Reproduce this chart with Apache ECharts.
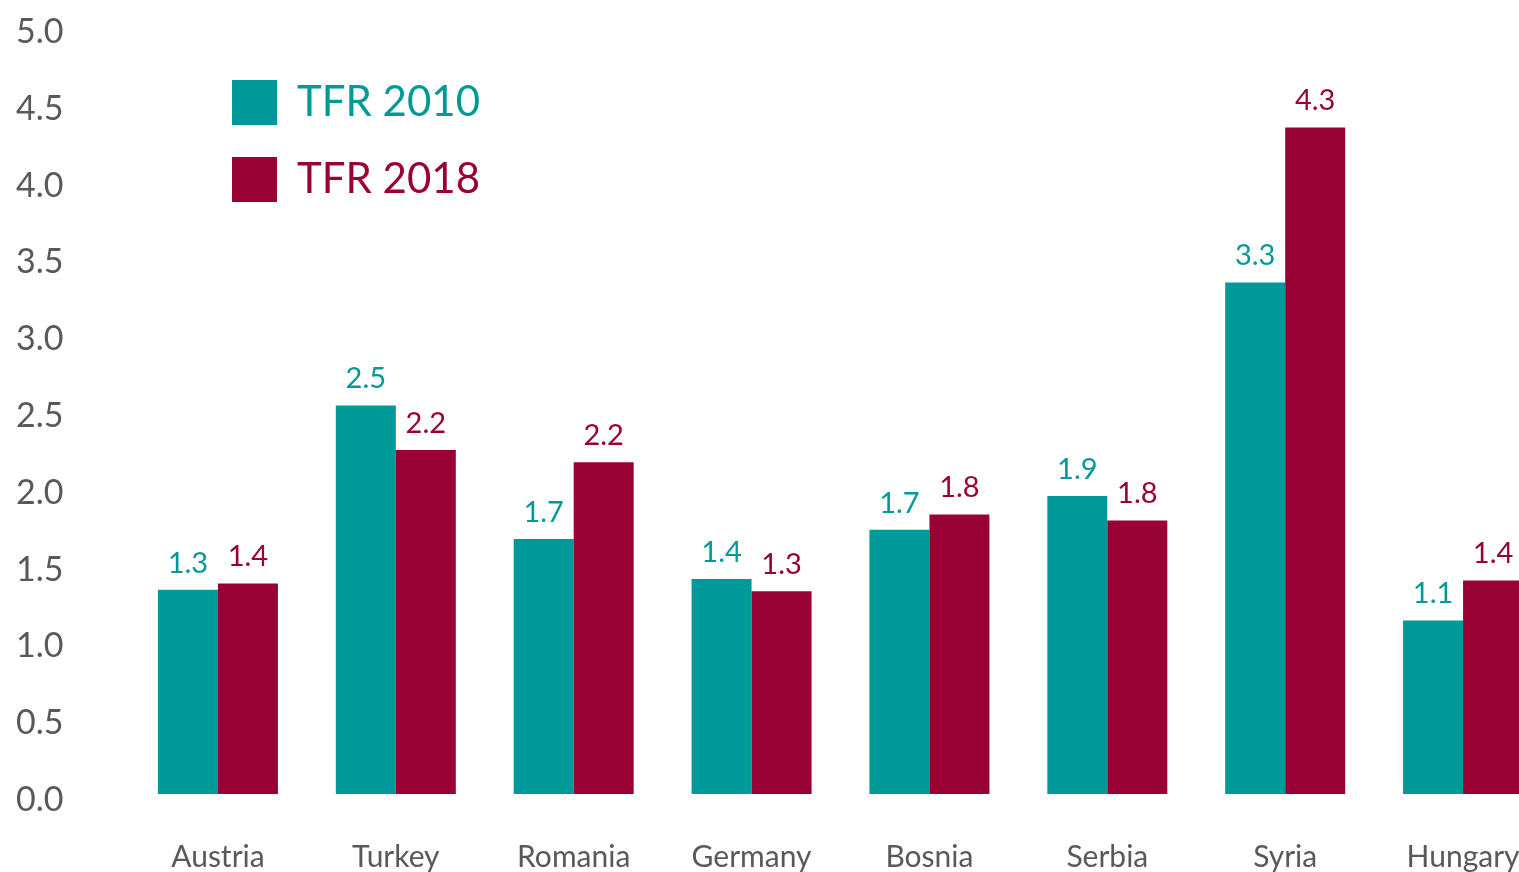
<!DOCTYPE html>
<html>
<head>
<meta charset="utf-8">
<script src="https://cdn.jsdelivr.net/npm/echarts@6/dist/echarts.min.js"></script>
<style>
  html, body { margin: 0; padding: 0; overflow: hidden; background: #fff; }
  #chart { width: 1552px; height: 872px; }
</style>
</head>
<body>
<div id="chart"></div>
<script>
// countries on the x axis
var countries = ['Austria', 'Turkey', 'Romania', 'Germany', 'Bosnia', 'Serbia', 'Syria', 'Hungary'];
// total fertility rate
var tfr2010 = [1.33, 2.53, 1.66, 1.40, 1.72, 1.94, 3.33, 1.13];
var tfr2018 = [1.37, 2.24, 2.16, 1.32, 1.82, 1.78, 4.34, 1.39];
var yTicks = [0, 0.5, 1, 1.5, 2, 2.5, 3, 3.5, 4, 4.5, 5];

var teal = '#009999';
var wine = '#990033';
var font = 'Lato';

var chart = echarts.init(document.getElementById('chart'));

var option = {
  animation: false,
  textStyle: { fontFamily: font },
  grid: { left: 129, right: 0, top: 26, bottom: 78 },
  legend: {
    orient: 'vertical',
    left: 232,
    top: 80,
    padding: 0,
    itemWidth: 45,
    itemHeight: 45,
    itemGap: 32,
    icon: 'rect',
    textStyle: { fontSize: 42, fontFamily: font, padding: [0, 0, 0, 15] },
    data: [
      { name: 'TFR 2010', textStyle: { color: teal } },
      { name: 'TFR 2018', textStyle: { color: wine } }
    ]
  },
  xAxis: {
    type: 'category',
    data: countries,
    axisLine: { show: false },
    axisTick: { show: false },
    axisLabel: { color: '#595959', fontSize: 30, margin: 48, fontFamily: font }
  },
  yAxis: {
    type: 'value',
    min: yTicks[0],
    max: yTicks[yTicks.length - 1],
    interval: 0.5,
    splitLine: { show: false },
    axisLine: { show: false },
    axisTick: { show: false },
    axisLabel: {
      align: 'left',
      margin: 113,
      formatter: function (v) { return '{t|' + v.toFixed(1) + '}'; },
      rich: {
        // taller line with the text sat at its bottom pushes it a few px down
        t: {
          color: '#595959',
          fontSize: 34,
          fontFamily: font,
          lineHeight: 46,
          verticalAlign: 'bottom'
        }
      }
    }
  },
  series: [
    {
      name: 'TFR 2010',
      type: 'bar',
      data: tfr2010,
      barWidth: 60,
      barGap: '0%',
      itemStyle: { color: teal },
      label: {
        show: true,
        position: 'top',
        distance: 12,
        color: teal,
        fontSize: 29,
        fontFamily: font,
        formatter: function (p) { return p.value.toFixed(1); }
      }
    },
    {
      name: 'TFR 2018',
      type: 'bar',
      data: tfr2018,
      barWidth: 60,
      barGap: '0%',
      itemStyle: { color: wine },
      label: {
        show: true,
        position: 'top',
        distance: 12,
        color: wine,
        fontSize: 29,
        fontFamily: font,
        formatter: function (p) { return p.value.toFixed(1); }
      }
    }
  ]
};

chart.setOption(option);
</script>
</body>
</html>
